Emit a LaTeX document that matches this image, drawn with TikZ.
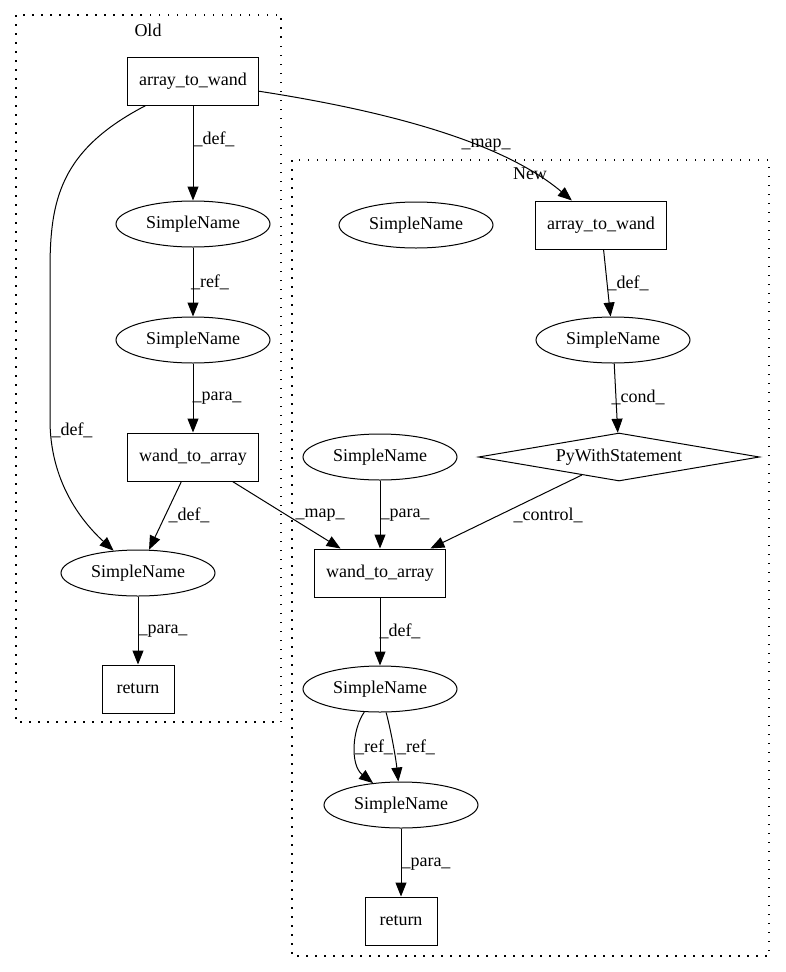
\documentclass[tikz,border=0pt]{standalone}
\usepackage{fontspec}
\setmainfont{Liberation Serif}
\usetikzlibrary{shapes.geometric,arrows.meta}
\begin{document}
\begin{tikzpicture}[x=1pt,y=-1pt,
 every node/.style={font=\fontsize{18}{20}\selectfont, inner sep=0pt},
 boxn/.style={draw, line width=1pt, rectangle, minimum height=48pt},
 ell/.style={draw, line width=1pt, ellipse, minimum width=154pt, minimum height=46pt},
 dia/.style={draw, line width=1pt, diamond, aspect=5.85, minimum width=281pt, minimum height=48pt},
 edge/.style={draw, line width=1pt, -{Triangle[length=14pt,width=11pt]}},
 cluster/.style={draw, line width=1.4pt, dash pattern=on 1.5pt off 7.5pt}
]
\useasboundingbox (0,0) rectangle (785,972);
\fill[white] (0,0) rectangle (785,972);
% clusters
\draw[cluster] (16,15) rectangle (281,722);
\node (oldlab) at (148,30) {Old};
\draw[cluster] (292,160) rectangle (769,956);
\node (newlab) at (530,174) {New};
% old nodes
\node[boxn, minimum width=131pt] (atwO) at (193,81) {array\_to\_wand};
\node[ell] (snO1) at (193,224) {SimpleName};
\node[ell] (snO2) at (193,340) {SimpleName};
\node[boxn, minimum width=131pt] (wtaO) at (193,457) {wand\_to\_array};
\node[ell] (snO3) at (138,573) {SimpleName};
\node[boxn, minimum width=72pt] (retO) at (138,689) {return};
% new nodes
\node[ell] (snN0) at (416,225) {SimpleName};
\node[boxn, minimum width=131pt] (atwN) at (601,225) {array\_to\_wand};
\node[ell] (snN1) at (613,340) {SimpleName};
\node[dia] (py) at (619,457) {PyWithStatement};
\node[ell] (snN2) at (380,457) {SimpleName};
\node[boxn, minimum width=131pt] (wtaN) at (380,573) {wand\_to\_array};
\node[ell] (snN3) at (380,689) {SimpleName};
\node[ell] (snN4) at (401,805) {SimpleName};
\node[boxn, minimum width=72pt] (retN) at (401,921) {return};
% edges
\path[edge] (atwO) -- (snO1);
\path[edge] (atwO) .. controls (60,150) and (50,200) .. (50,270) -- (50,420) .. controls (50,480) and (80,520) .. (snO3);
\path[edge] (atwO) .. controls (380,110) and (500,140) .. (atwN);
\path[edge] (snO1) -- (snO2);
\path[edge] (snO2) -- (wtaO);
\path[edge] (wtaO) -- (snO3);
\path[edge] (wtaO) -- (wtaN);
\path[edge] (snO3) -- (retO);
\path[edge] (atwN) -- (snN1);
\path[edge] (snN1) -- (py);
\path[edge] (py) -- (wtaN);
\path[edge] (snN2) -- (wtaN);
\path[edge] (wtaN) -- (snN3);
\path[edge] (snN3) .. controls (352,730) and (350,765) .. (snN4);
\path[edge] (snN3) .. controls (392,735) and (396,760) .. (snN4);
\path[edge] (snN4) -- (retN);
% labels
\node (l1) at (214,139) {\_def\_};
\node (l2) at (72,430) {\_def\_};
\node (l3) at (486,145) {\_map\_};
\node (l4) at (210,282) {\_ref\_};
\node (l5) at (217,398) {\_para\_};
\node (l6) at (189,515) {\_def\_};
\node (l7) at (320,515) {\_map\_};
\node (l8) at (163,631) {\_para\_};
\node (l9) at (628,283) {\_def\_};
\node (l10) at (638,397) {\_cond\_};
\node (l11) at (548,515) {\_control\_};
\node (l12) at (405,515) {\_para\_};
\node (l13) at (400,631) {\_def\_};
\node (l14) at (374,747) {\_ref\_};
\node (l15) at (416,747) {\_ref\_};
\node (l16) at (426,864) {\_para\_};
\end{tikzpicture}
\end{document}
